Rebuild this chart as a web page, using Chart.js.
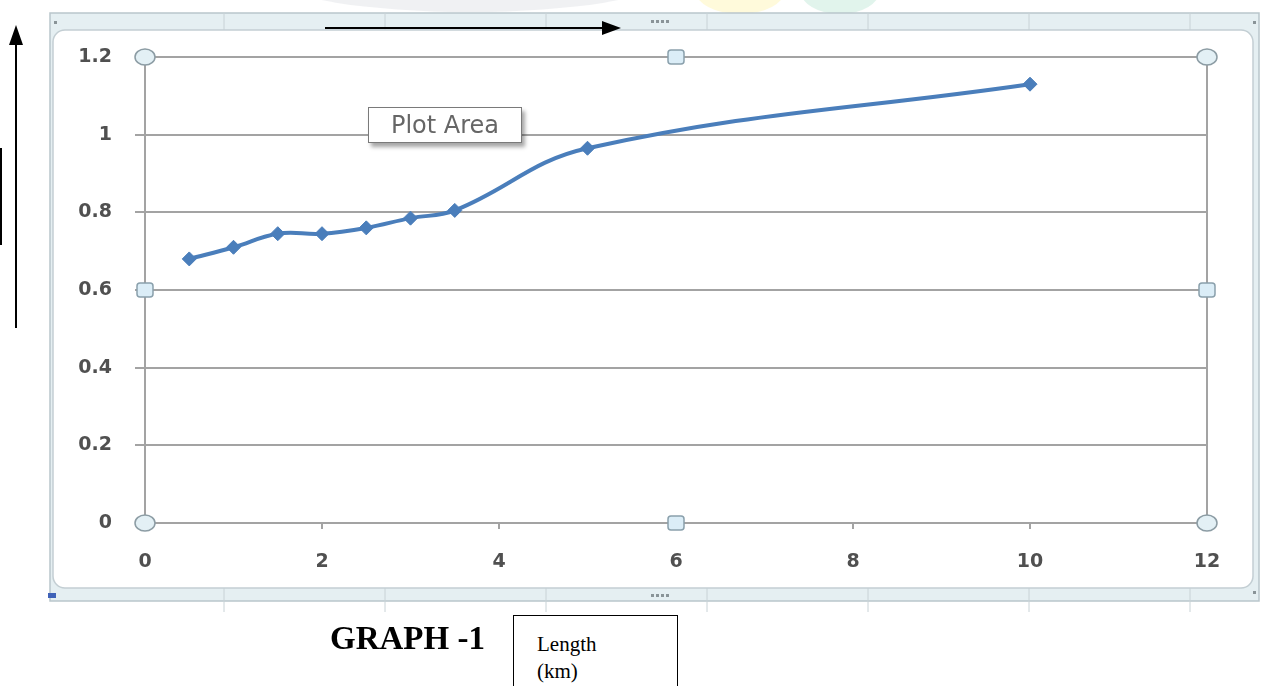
<!DOCTYPE html>
<html>
<head>
<meta charset="utf-8">
<script src="https://cdn.jsdelivr.net/npm/chart.js@4.4.1/dist/chart.umd.min.js"></script>
<style>
  html, body { margin: 0; padding: 0; background: #ffffff; }
  #wrap { position: relative; width: 1263px; height: 686px; overflow: hidden; }
  #c { position: absolute; left: 0; top: 0; }
  .plotarea {
    position: absolute; left: 368px; top: 107px; width: 152px; height: 34px;
    border: 1px solid #7a7a7a; background: #fff;
    box-shadow: 3px 4px 4px rgba(0,0,0,0.35);
    font-family: "DejaVu Sans", Verdana, sans-serif; font-size: 24px; color: #666;
    line-height: 34px; text-align: center; white-space: nowrap;
  }
  .graph {
    position: absolute; left: 330px; top: 620px;
    font-family: "Liberation Serif", "Times New Roman", serif; font-weight: bold; font-size: 33px; color: #000;
    white-space: nowrap;
  }
  .lenbox {
    position: absolute; left: 513px; top: 615px; width: 165px; height: 90px;
    border: 1px solid #000; box-sizing: border-box; background: #fff;
    font-family: "Liberation Serif", "Times New Roman", serif; font-size: 21px; color: #000;
    padding: 15px 0 0 23px; line-height: 27px;
  }
</style>
</head>
<body>
<div id="wrap">
  <canvas id="c" width="1263" height="686"></canvas>
  <div class="plotarea">Plot Area</div>
  <div class="graph">GRAPH -1</div>
  <div class="lenbox">Length<br>(km)</div>
</div>
<script>
// ---- data ----
const lengthKm = [0.5, 1, 1.5, 2, 2.5, 3, 3.5, 5, 10];
const values   = [0.68, 0.71, 0.745, 0.745, 0.76, 0.785, 0.805, 0.965, 1.13];
const xTicks = [0, 2, 4, 6, 8, 10, 12];
const yTicks = [0, 0.2, 0.4, 0.6, 0.8, 1, 1.2];
const yTickLabels = ['0', '0.2', '0.4', '0.6', '0.8', '1', '1.2'];

const gridColor = '#a3a3a3';

function drawCircleHandle(ctx, x, y) {
  ctx.save();
  ctx.beginPath();
  ctx.ellipse(x, y, 10, 8, 0, 0, Math.PI * 2);
  ctx.fillStyle = '#e3f0f5';
  ctx.fill();
  ctx.lineWidth = 1.5;
  ctx.strokeStyle = '#8c9ca4';
  ctx.stroke();
  ctx.restore();
}
function drawSquareHandle(ctx, x, y) {
  ctx.save();
  ctx.beginPath();
  ctx.roundRect(x - 8, y - 7, 16, 14, 3);
  ctx.fillStyle = '#dbedf7';
  ctx.fill();
  ctx.lineWidth = 1.5;
  ctx.strokeStyle = '#8aa0ac';
  ctx.stroke();
  ctx.restore();
}

const decor = {
  id: 'decor',
  beforeDraw(chart) {
    const ctx = chart.ctx;
    ctx.save();
    // faint watermark shapes at top
    ctx.fillStyle = 'rgba(205,210,215,0.3)';
    ctx.beginPath(); ctx.ellipse(470, -20, 190, 32, 0, 0, Math.PI * 2); ctx.fill();
    ctx.fillStyle = 'rgba(255,245,190,0.55)';
    ctx.beginPath(); ctx.ellipse(740, -10, 45, 24, 0, 0, Math.PI * 2); ctx.fill();
    ctx.fillStyle = 'rgba(200,235,220,0.55)';
    ctx.beginPath(); ctx.ellipse(840, -10, 40, 24, 0, 0, Math.PI * 2); ctx.fill();

    // outer frame strip
    ctx.fillStyle = '#e5eff2';
    ctx.fillRect(50, 13, 1209, 588);
    ctx.strokeStyle = '#b9c6cb';
    ctx.lineWidth = 1.5;
    ctx.strokeRect(50, 13, 1209, 588);
    // ruler dividers
    ctx.strokeStyle = '#c8d2d6';
    ctx.lineWidth = 1;
    for (let i = 0; i < 7; i++) {
      const xx = 224 + i * 161;
      ctx.beginPath(); ctx.moveTo(xx, 13); ctx.lineTo(xx, 30); ctx.stroke();
      ctx.beginPath(); ctx.moveTo(xx, 588); ctx.lineTo(xx, 612); ctx.stroke();
    }
    // inner white area
    ctx.beginPath();
    ctx.roundRect(53, 30, 1200, 558, 12);
    ctx.fillStyle = '#ffffff';
    ctx.fill();
    ctx.strokeStyle = '#c3ced3';
    ctx.lineWidth = 1.5;
    ctx.stroke();
    // little dots
    ctx.fillStyle = '#8a9498';
    for (let i = 0; i < 4; i++) {
      ctx.fillRect(651 + i * 5, 20, 3, 3);
      ctx.fillRect(651 + i * 5, 594, 3, 3);
    }
    ctx.fillRect(1253, 21, 3, 3);
    ctx.fillRect(1253, 591, 3, 3);
    ctx.fillRect(54, 21, 3, 3);
    // little blue icon bottom-left
    ctx.fillStyle = '#3f62b8';
    ctx.fillRect(48, 593, 8, 5);
    ctx.restore();
  },
  afterDraw(chart) {
    const ctx = chart.ctx;
    const a = chart.chartArea;
    ctx.save();
    // right plot border
    ctx.strokeStyle = gridColor;
    ctx.lineWidth = 2;
    ctx.beginPath(); ctx.moveTo(a.right, a.top); ctx.lineTo(a.right, a.bottom); ctx.stroke();
    const midX = (a.left + a.right) / 2, midY = (a.top + a.bottom) / 2;
    drawCircleHandle(ctx, a.left, a.top);
    drawCircleHandle(ctx, a.right, a.top);
    drawCircleHandle(ctx, a.left, a.bottom);
    drawCircleHandle(ctx, a.right, a.bottom);
    drawSquareHandle(ctx, midX, a.top);
    drawSquareHandle(ctx, midX, a.bottom);
    drawSquareHandle(ctx, a.left, midY);
    drawSquareHandle(ctx, a.right, midY);

    // arrows
    ctx.strokeStyle = '#000';
    ctx.fillStyle = '#000';
    ctx.lineWidth = 2;
    ctx.beginPath(); ctx.moveTo(325, 28); ctx.lineTo(604, 28); ctx.stroke();
    ctx.beginPath(); ctx.moveTo(621, 28); ctx.lineTo(602, 21); ctx.lineTo(602, 35); ctx.closePath(); ctx.fill();
    ctx.beginPath(); ctx.moveTo(16, 328); ctx.lineTo(16, 42); ctx.stroke();
    ctx.beginPath(); ctx.moveTo(16, 25); ctx.lineTo(9, 45); ctx.lineTo(23, 45); ctx.closePath(); ctx.fill();
    // left edge line
    ctx.beginPath(); ctx.moveTo(1, 148); ctx.lineTo(1, 245); ctx.stroke();
    ctx.restore();
  }
};

new Chart(document.getElementById('c'), {
  type: 'line',
  data: {
    datasets: [{
      data: lengthKm.map((x, i) => ({ x: x, y: values[i] })),
      borderColor: '#4a7ebb',
      backgroundColor: '#4a7ebb',
      borderWidth: 4,
      tension: 0.4,
      pointStyle: 'rectRot',
      pointRadius: 7,
      pointBackgroundColor: '#4a7ebb',
      pointBorderColor: '#4a7ebb',
      pointBorderWidth: 1,
      fill: false
    }]
  },
  options: {
    responsive: false,
    animation: false,
    layout: { padding: { left: 40, top: 57, right: 56, bottom: 113 } },
    plugins: { legend: { display: false }, tooltip: { enabled: false } },
    scales: {
      x: {
        type: 'linear', min: 0, max: 12,
        afterBuildTicks: s => { s.ticks = xTicks.map(v => ({ value: v })); },
        afterFit: s => { s.height = 50; },
        ticks: {
          callback: v => String(v),
          color: '#505050', padding: 22,
          font: { family: 'DejaVu Sans', size: 19, weight: 'bold' }
        },
        grid: { drawOnChartArea: false, drawTicks: true, tickLength: 6, color: gridColor, lineWidth: 2 },
        border: { display: true, color: gridColor, width: 2 }
      },
      y: {
        type: 'linear', min: 0, max: 1.2,
        afterBuildTicks: s => { s.ticks = yTicks.map(v => ({ value: v })); },
        afterFit: s => { s.width = 105; },
        ticks: {
          callback: (v, i) => yTickLabels[i],
          color: '#505050', padding: 23,
          font: { family: 'DejaVu Sans', size: 19, weight: 'bold' }
        },
        grid: { drawOnChartArea: true, drawTicks: true, tickLength: 10, color: gridColor, lineWidth: 2 },
        border: { display: true, color: gridColor, width: 2 }
      }
    }
  },
  plugins: [decor]
});
</script>
</body>
</html>
